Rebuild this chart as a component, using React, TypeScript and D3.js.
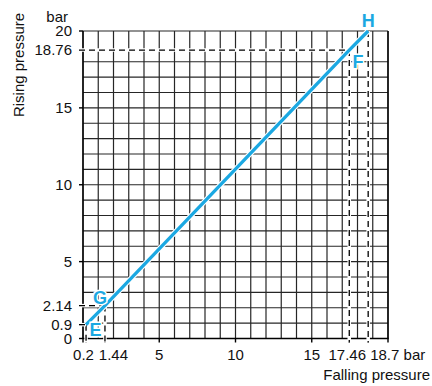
import * as d3 from "d3";

// values
const xTicks = [0.2, 1.44, 5, 10, 15, 17.46, 18.7];
const yTicks = [0, 0.9, 2.14, 5, 10, 15, 18.76, 20];
const pointLabels = ["E", "G", "F", "H"];
const pointX = [0.2, 1.44, 17.46, 18.7];
const pointY = [0.9, 2.14, 18.76, 20];

const W = 432;
const H = 386;
const blue = "#1ba8e2";
const font = "'Liberation Sans', Arial, Helvetica, sans-serif";

export default function App() {
  const x = d3.scaleLinear().domain([0, 20]).range([83, 388]);
  const y = d3.scaleLinear().domain([0, 20]).range([338.5, 31]);

  const gridX = x.ticks(20);
  const gridY = y.ticks(20).filter((v) => v !== 19);

  const pts = pointX.map((v, i) => ({ label: pointLabels[i], x: v, y: pointY[i] }));
  const line = d3
    .line<{ x: number; y: number }>()
    .x((d) => x(d.x))
    .y((d) => y(d.y));

  const bottom = y(0);
  const left = x(0);

  // tweak label placement a bit like the original
  const xLabelShift: Record<string, number> = { "0.2": -2.5, "1.44": 8.5, "17.46": -2 };
  const dashed = [
    { v: true, at: 0.2, to: 0.9 },
    { v: true, at: 1.44, to: 2.14 },
    { v: true, at: 17.46, to: 18.76 },
    { v: true, at: 18.7, to: 20 },
    { v: false, at: 0.9, to: 0.2 },
    { v: false, at: 2.14, to: 1.44 },
    { v: false, at: 18.76, to: 17.46 },
  ];

  const labelOffset: Record<string, [number, number]> = {
    E: [9.5, 5.5],
    G: [-5, -8],
    F: [8.7, 12],
    H: [0, -10],
  };

  return (
    <svg
      width={W}
      height={H}
      style={{ position: "fixed", left: 0, top: 0, background: "#fff" }}
      fontFamily={font}
    >
      <rect width={W} height={H} fill="#fff" />
      {/* grid */}
      <g stroke="#262626" strokeWidth={1.2}>
        {gridX.map((d) => (
          <line key={"gx" + d} x1={x(d)} x2={x(d)} y1={y(20)} y2={bottom} />
        ))}
        {gridY.map((d) => (
          <line key={"gy" + d} x1={left} x2={x(20)} y1={y(d)} y2={y(d)} />
        ))}
      </g>
      {/* axes */}
      <g stroke="#000" strokeWidth={1.4}>
        <line x1={left} x2={left} y1={y(20)} y2={bottom + 4} />
        <line x1={left} x2={x(20) + 0.7} y1={bottom} y2={bottom} />
        <line x1={x(20)} x2={x(20)} y1={y(20)} y2={bottom + 4} />
        {yTicks.map((d) => (
          <line key={"yt" + d} x1={left - 4} x2={left} y1={y(d)} y2={y(d)} />
        ))}
        {xTicks.map((d) => (
          <line key={"xt" + d} x1={x(d)} x2={x(d)} y1={bottom} y2={bottom + 4} />
        ))}
      </g>
      {/* dashed reference lines */}
      {dashed.map((d, i) => {
        const c = d.v
          ? { x1: x(d.at), x2: x(d.at), y1: y(d.to), y2: bottom + 4 }
          : { x1: left - 4, x2: x(d.to), y1: y(d.at), y2: y(d.at) };
        return (
          <g key={"d" + i}>
            <line {...c} stroke="#fff" strokeWidth={3.5} />
            <line {...c} stroke="#000" strokeWidth={1.3} strokeDasharray="6,4" />
          </g>
        );
      })}
      {/* blue line */}
      <path d={line(pts) || ""} fill="none" stroke="#fff" strokeWidth={5.5} />
      <path d={line(pts) || ""} fill="none" stroke={blue} strokeWidth={3.3} />
      {/* point labels */}
      {pts.map((p) => (
        <text
          key={p.label}
          x={x(p.x) + labelOffset[p.label][0]}
          y={y(p.y) + labelOffset[p.label][1]}
          fontSize={18}
          fontWeight="bold"
          fill={blue}
          textAnchor="middle"
          dominantBaseline="central"
          stroke="#fff"
          strokeWidth={3}
          paintOrder="stroke"
        >
          {p.label}
        </text>
      ))}
      {/* y tick labels */}
      <g fontSize={15} fill="#111" textAnchor="end">
        {yTicks.map((d) => (
          <text key={"yl" + d} x={72} y={y(d)} dy="0.36em">
            {String(d)}
          </text>
        ))}
        <text x={68} y={22}>bar</text>
      </g>
      {/* x tick labels */}
      <g fontSize={15} fill="#111">
        {xTicks.map((d) => {
          const k = String(d);
          if (d === 18.7) {
            return (
              <text key={"xl" + k} x={x(d) + 2} y={360} textAnchor="start">
                {k} bar
              </text>
            );
          }
          return (
            <text key={"xl" + k} x={x(d) + (xLabelShift[k] || 0)} y={360} textAnchor="middle">
              {k}
            </text>
          );
        })}
      </g>
      <text x={430} y={380} fontSize={15} fill="#111" textAnchor="end">
        Falling pressure
      </text>
      <text
        transform="translate(24,65) rotate(-90)"
        fontSize={15}
        fill="#111"
        textAnchor="middle"
      >
        Rising pressure
      </text>
    </svg>
  );
}
